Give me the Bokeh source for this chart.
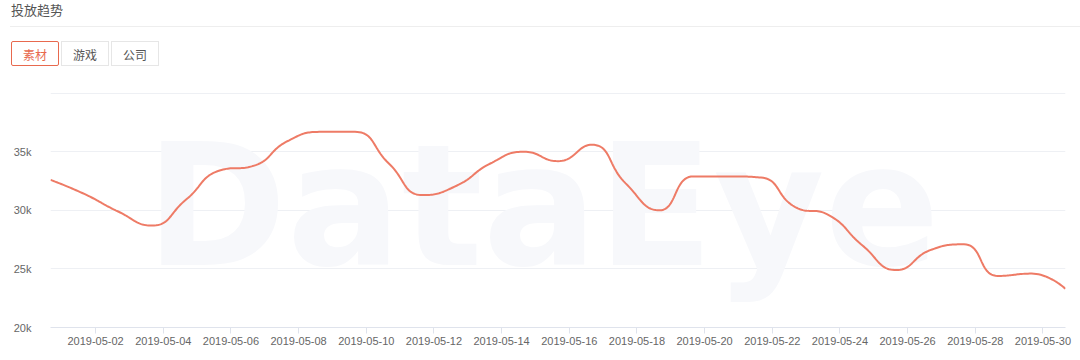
import numpy as np
import pandas as pd
from bokeh.plotting import figure
from bokeh.models import Range1d, FixedTicker, DatetimeTickFormatter, Div
from bokeh.layouts import column
from bokeh.embed import file_html
from bokeh.resources import INLINE
from bokeh.core.properties import value

# ---------------- data ----------------
title = "投放趋势"
tabs = ["素材", "游戏", "公司"]
selected_tab = "素材"
watermark = "DataEye"

dates = pd.date_range("2019-05-01", "2019-05-31", freq="D")
values = [32600, 31400, 29900, 28700, 30900, 33400, 33800, 35900, 36700, 36700,
          34000, 31300, 32100, 34000, 35000, 34200, 35600, 32300, 30000, 32900,
          32900, 32800, 30300, 29600, 27000, 24900, 26600, 27100, 24400, 24600, 23300]
y_ticks = [20000, 25000, 30000, 35000, 40000]
y_tick_labels = ["20k", "25k", "30k", "35k", ""]
x_tick_dates = pd.date_range("2019-05-02", "2019-05-30", freq="2D")
tz_offset_hours = 8  # timestamps are local (UTC+8) midnights, axis labels in UTC

# ---------------- styles ----------------
LINE_COLOR = "#ee7b66"
ACCENT = "#e8694e"
GRID = "#eef0f4"
AXIS = "#dfe3ec"
LABEL = "#666666"

# ---------------- smoothing (ECharts 5 style, smooth=0.5, no overshoot) ----------------
def echarts_smooth(px, py, smooth=0.5, n=24):
    N = len(px)
    outx, outy = [], []
    cp0x, cp0y = px[0], py[0]
    for k in range(1, N):
        x, y = px[k], py[k]
        ax, ay = px[k - 1], py[k - 1]
        if k == N - 1:
            c1x, c1y = x, y
            ncx, ncy = x, y
        else:
            prevX, prevY = px[k - 1], py[k - 1]
            nextX, nextY = px[k + 1], py[k + 1]
            vx, vy = nextX - prevX, nextY - prevY
            lp = np.hypot(x - prevX, y - prevY)
            ln = np.hypot(nextX - x, nextY - y)
            r = ln / (ln + lp)
            ncx = x + vx * smooth * r
            ncy = y + vy * smooth * r
            ncx = min(ncx, max(nextX, x)); ncy = min(ncy, max(nextY, y))
            ncx = max(ncx, min(nextX, x)); ncy = max(ncy, min(nextY, y))
            vx, vy = ncx - x, ncy - y
            c1x = x - vx * lp / ln
            c1y = y - vy * lp / ln
            c1x = min(c1x, max(prevX, x)); c1y = min(c1y, max(prevY, y))
            c1x = max(c1x, min(prevX, x)); c1y = max(c1y, min(prevY, y))
            vx, vy = x - c1x, y - c1y
            ncx = x + vx * ln / lp
            ncy = y + vy * ln / lp
        t = np.linspace(0, 1, n, endpoint=(k == N - 1))
        bx = (1 - t) ** 3 * ax + 3 * (1 - t) ** 2 * t * cp0x + 3 * (1 - t) * t ** 2 * c1x + t ** 3 * x
        by = (1 - t) ** 3 * ay + 3 * (1 - t) ** 2 * t * cp0y + 3 * (1 - t) * t ** 2 * c1y + t ** 3 * y
        outx.extend(bx); outy.extend(by)
        cp0x, cp0y = ncx, ncy
    return np.array(outx), np.array(outy)

xs_dt = dates - pd.Timedelta(hours=tz_offset_hours)
day_ms = 86400000.0
x_ms = xs_dt.asi8 / 1e6
sx, sy = 34.2 / day_ms, 11.7 / 1000.0  # approx. pixel scale, for smoothing distances
bx, by = echarts_smooth(x_ms * sx, np.asarray(values, float) * sy)
sm_x, sm_v = bx / sx, by / sy

x_start, x_end = x_ms[0], x_ms[-1]

# ---------------- header (HTML) ----------------
font = "'Noto Sans CJK SC', 'Noto Sans', sans-serif"
parts = [f'<div style="position:relative;width:1080px;height:82px;font-family:{font};background:white;">',
         f'<div style="position:absolute;left:11px;top:1px;font-size:13px;line-height:18px;color:#555;white-space:nowrap;">{title}</div>',
         '<div style="position:absolute;left:10px;top:26px;width:1070px;height:1px;background:#eeeeee;"></div>']
for i, t in enumerate(tabs):
    if t == selected_tab:
        continue
    parts.append(f'<div style="position:absolute;left:{11 + 50 * i}px;top:41px;width:48px;height:25px;'
                 f'border:1px solid #e6e6e6;color:#555;font-size:12px;line-height:25px;text-align:center;white-space:nowrap;">{t}</div>')
for i, t in enumerate(tabs):
    if t != selected_tab:
        continue
    parts.append(f'<div style="position:absolute;left:{11 + 50 * i}px;top:41px;width:48px;height:25px;border-radius:2px;'
                 f'border:1px solid {ACCENT};color:{ACCENT};font-size:12px;line-height:25px;text-align:center;background:white;white-space:nowrap;">{t}</div>')
parts.append('</div>')
header = Div(text="".join(parts), width=1080, height=82, margin=(0, 0, 0, 0))

# ---------------- main chart ----------------
p = figure(width=1080, height=278, x_axis_type="datetime",
           x_range=Range1d(x_start, x_end), y_range=Range1d(y_ticks[0], y_ticks[-1] + 60),
           output_backend="svg", toolbar_location=None,
           min_border_left=50, min_border_right=15, min_border_top=10, min_border_bottom=33)
p.outline_line_color = None
p.background_fill_color = "white"

# faint watermark
p.text(x=[x_start + (x_end - x_start) * 0.485], y=[30400], text=[watermark],
       text_font=value("DejaVu Sans"), text_font_style="bold", text_font_size="170px",
       text_color="#f7f8fb", text_align="center", text_baseline="middle")

p.line(sm_x, sm_v, line_color=LINE_COLOR, line_width=2)

p.xgrid.visible = False
p.ygrid.ticker = FixedTicker(ticks=y_ticks)
p.ygrid.grid_line_color = GRID

yax = p.yaxis[0]
yax.ticker = FixedTicker(ticks=y_ticks)
yax.major_label_overrides = {t: l for t, l in zip(y_ticks, y_tick_labels)}
yax.axis_line_color = None
yax.major_tick_line_color = None
yax.minor_tick_line_color = None
yax.major_label_standoff = 13
yax.major_label_text_font = "Liberation Sans"
yax.major_label_text_font_size = "11px"
yax.major_label_text_color = LABEL

xax = p.xaxis[0]
xax.ticker = FixedTicker(ticks=[d.value / 1e6 for d in x_tick_dates])
fmt = "%Y-%m-%d"
xax.formatter = DatetimeTickFormatter(days=fmt, months=fmt, hours=fmt, years=fmt,
                                      minutes=fmt, hourmin=fmt, seconds=fmt)
xax.axis_line_color = AXIS
xax.major_tick_line_color = AXIS
xax.major_tick_out = 6
xax.major_tick_in = 0
xax.minor_tick_line_color = None
xax.major_label_standoff = 3
xax.major_label_text_font = "Liberation Sans"
xax.major_label_text_font_size = "11px"
xax.major_label_text_color = LABEL

layout = column(header, p, spacing=0)
open("out.html", "w").write(file_html(layout, INLINE))
